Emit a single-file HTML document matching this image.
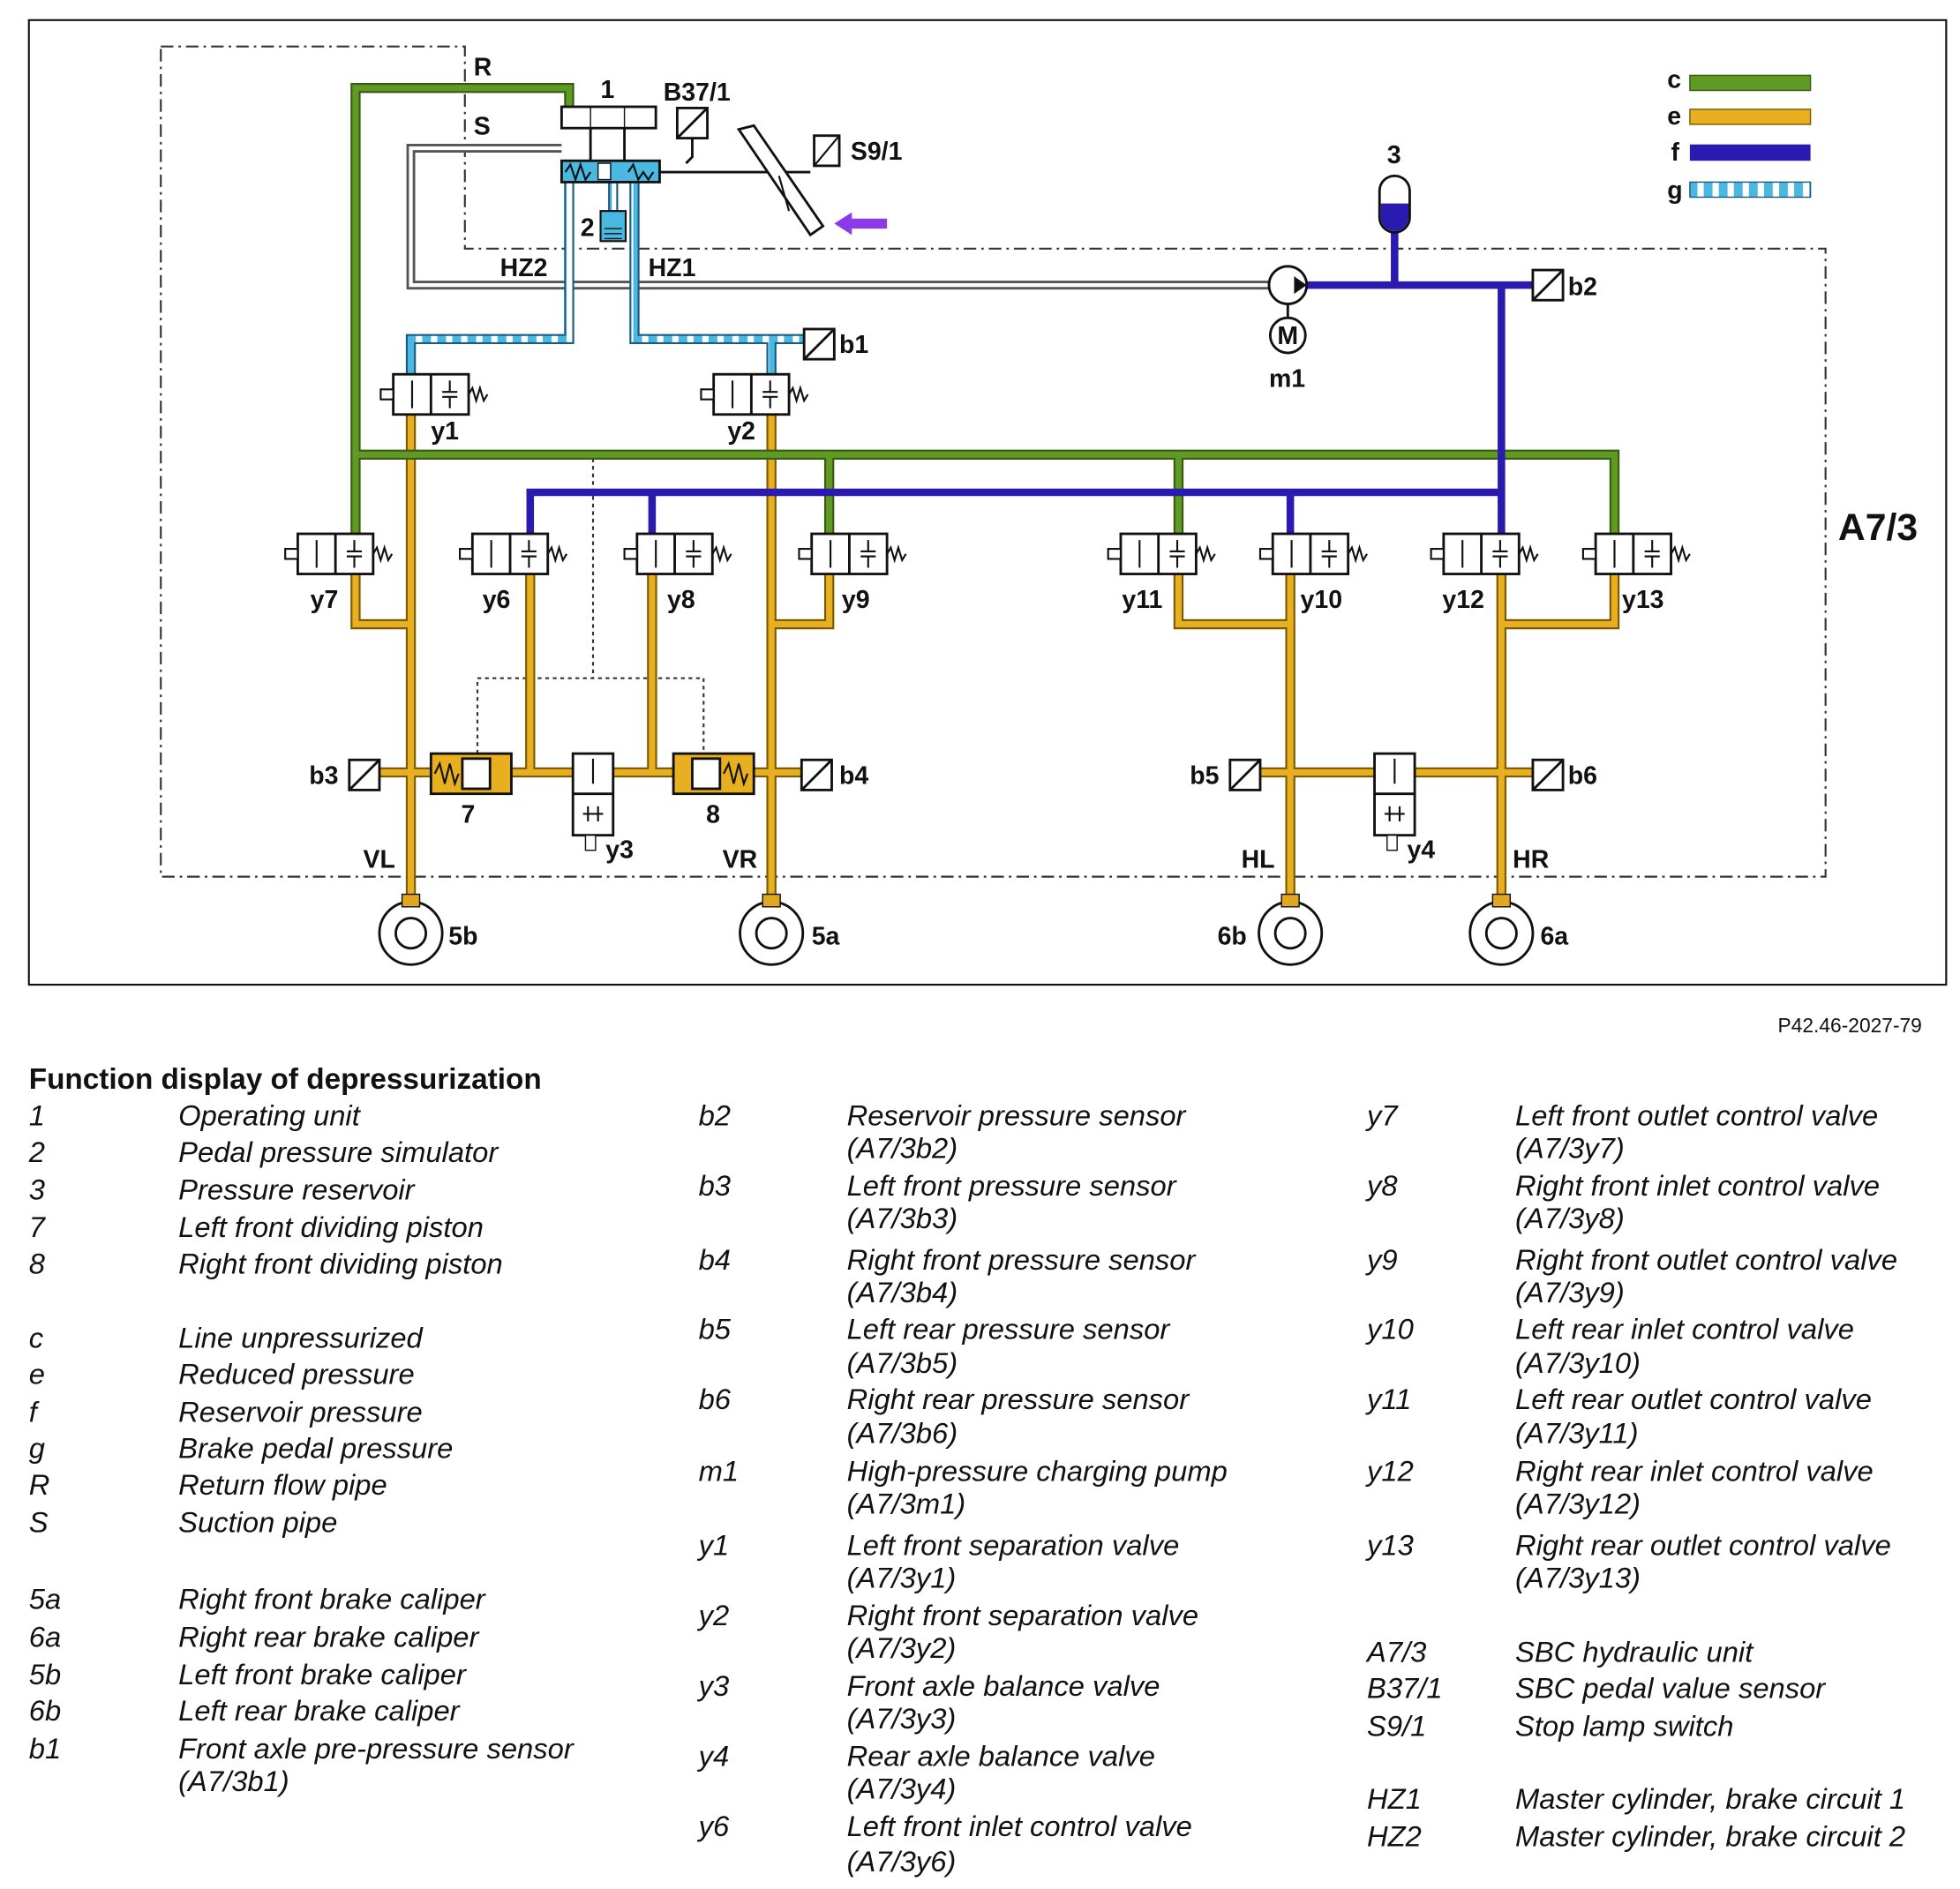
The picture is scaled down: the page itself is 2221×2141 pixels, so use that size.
<!DOCTYPE html>
<html><head><meta charset="utf-8"><style>
html,body{margin:0;padding:0;background:#fff}
svg{display:block}
.lb{font-family:"Liberation Sans",sans-serif;font-weight:bold;font-size:20px;fill:#111}
.t{font-family:"Liberation Sans",sans-serif;font-style:italic;font-size:23px;fill:#111}
</style></head><body>
<svg width="2221" height="2141" viewBox="0 0 1560 1504" preserveAspectRatio="none" xmlns="http://www.w3.org/2000/svg">
<defs>
<pattern id="stripe" width="12" height="12" patternUnits="userSpaceOnUse"><rect width="12" height="12" fill="#fff"/><rect width="7" height="12" fill="#4ab8e0"/></pattern>
<g id="valve">
<rect x="-30" y="-16" width="60" height="32" fill="#fff" stroke="#111" stroke-width="2"/>
<line x1="0" y1="-16" x2="0" y2="16" stroke="#111" stroke-width="2"/>
<line x1="-15" y1="-11" x2="-15" y2="11" stroke="#111" stroke-width="1.5"/>
<line x1="15" y1="-11" x2="15" y2="-2" stroke="#111" stroke-width="1.5"/>
<line x1="15" y1="2" x2="15" y2="11" stroke="#111" stroke-width="1.5"/>
<line x1="9" y1="-2" x2="21" y2="-2" stroke="#111" stroke-width="1.5"/>
<line x1="9" y1="2" x2="21" y2="2" stroke="#111" stroke-width="1.5"/>
<path d="M30,0 l3,-5 l3,10 l3,-10 l3,10 l3,-5" fill="none" stroke="#111" stroke-width="1.5"/>
<rect x="-40" y="-4" width="10" height="8" fill="#fff" stroke="#111" stroke-width="1.5"/>
</g>
<g id="sensor"><rect x="0" y="0" width="24" height="24" fill="#fff" stroke="#111" stroke-width="2"/><line x1="0" y1="24" x2="24" y2="0" stroke="#111" stroke-width="2"/></g>
<g id="wheel"><circle r="25" fill="#fff" stroke="#111" stroke-width="2"/><circle r="12" fill="#fff" stroke="#111" stroke-width="2"/><rect x="-7" y="-31" width="14" height="10" fill="#e0a820" stroke="#111" stroke-width="1"/></g>
</defs>
<rect x="23" y="16" width="1526" height="768" fill="#fff" stroke="#111" stroke-width="1.5"/>
<path d="M128,37 H370 V198 H1453 V698 H128 Z" fill="none" stroke="#333" stroke-width="1.5" stroke-dasharray="10,4,2,4"/>
<path d="M472,365 V540 M380,600 V540 H560 V600" fill="none" stroke="#333" stroke-width="1.5" stroke-dasharray="3,3"/>
<path d="M447,118 H327 V227 H1010" fill="none" stroke="#555" stroke-width="7"/>
<path d="M447,118 H327 V227 H1010" fill="none" stroke="#fff" stroke-width="3"/>
<g fill="none" stroke="#7a5a00" stroke-width="8">
<path d="M327,330 V718 M614,330 V718 M283,457 V497 H327 M422,457 V615 M519,457 V615 M660,457 V497 H614 M300,615 H650 M938,457 V497 H1027 M1027,457 V718 M1195,457 V718 M1285,457 V497 H1195 M1000,615 H1220"/>
</g>
<g fill="none" stroke="#e8b020" stroke-width="5">
<path d="M327,330 V718 M614,330 V718 M283,457 V497 H327 M422,457 V615 M519,457 V615 M660,457 V497 H614 M300,615 H650 M938,457 V497 H1027 M1027,457 V718 M1195,457 V718 M1285,457 V497 H1195 M1000,615 H1220"/>
</g>
<g fill="none" stroke="#3a5a10" stroke-width="8"><path d="M453,88 V70 H283 V425 M283,362 H1285 V425 M660,362 V425 M938,362 V425"/></g>
<g fill="none" stroke="#5e9a24" stroke-width="5"><path d="M453,88 V70 H283 V425 M283,362 H1285 V425 M660,362 V425 M938,362 V425"/></g>
<g fill="none" stroke="#2a1ab0" stroke-width="6"><path d="M1040,227 H1220 M1110,185 V227 M1195,227 V425 M422,425 V392 H1195 M519,392 V425 M1027,392 V425"/></g>
<g fill="none" stroke="#1a5a80" stroke-width="8"><path d="M453,145 V270 H327 V300 M505,145 V270 H640 M614,270 V300 M488,145 V168"/></g>
<g fill="none" stroke="url(#stripe)" stroke-width="5"><path d="M453,145 V270 H327 V300 M505,145 V270 H640 M614,270 V300 M488,145 V168"/></g>
<rect x="447" y="85" width="75" height="17" fill="#fff" stroke="#111" stroke-width="2"/>
<line x1="470" y1="85" x2="470" y2="102" stroke="#111"/><line x1="497" y1="85" x2="497" y2="102" stroke="#111"/>
<line x1="470" y1="102" x2="470" y2="128" stroke="#111" stroke-width="2"/><line x1="497" y1="102" x2="497" y2="128" stroke="#111" stroke-width="2"/>
<rect x="447" y="128" width="78" height="17" fill="#4ab8e0" stroke="#111" stroke-width="2"/>
<path d="M450,137 l4,-6 l4,12 l4,-12 l4,12 l4,-6 M500,137 l4,-6 l4,12 l4,-6 l4,6 l4,-6" fill="none" stroke="#111" stroke-width="1.5"/>
<rect x="476" y="130" width="10" height="13" fill="#fff" stroke="#111"/>
<line x1="525" y1="137" x2="645" y2="137" stroke="#111" stroke-width="2"/>
<rect x="478" y="168" width="20" height="24" fill="#4ab8e0" stroke="#111" stroke-width="1.5"/>
<path d="M481,182 h14 M481,186 h14 M481,190 h14" stroke="#111"/>
<use href="#sensor" x="539" y="86"/>
<path d="M551,110 V125 l-5,5" fill="none" stroke="#111" stroke-width="2"/>
<path d="M588,103 L600,100 L655,180 L645,187 Z" fill="#fff" stroke="#111" stroke-width="2"/>
<path d="M620,140 L628,168" stroke="#111" stroke-width="1.5"/>
<rect x="648" y="108" width="20" height="24" fill="#fff" stroke="#111" stroke-width="2"/>
<line x1="648" y1="132" x2="668" y2="108" stroke="#111" stroke-width="1.5"/>
<path d="M664,178 l14,-9 v5 h28 v8 h-28 v5 z" fill="#8a3ae8"/>
<rect x="1098" y="140" width="24" height="45" rx="12" fill="#fff" stroke="#111" stroke-width="2"/>
<path d="M1099,162 H1121 V173 A11,11 0 0 1 1099,173 Z" fill="#2a1ab0"/>
<circle cx="1025" cy="227" r="15" fill="#fff" stroke="#111" stroke-width="2"/>
<path d="M1030,220 l10,7 l-10,7 z" fill="#111"/>
<line x1="1025" y1="242" x2="1025" y2="253" stroke="#111" stroke-width="2"/>
<circle cx="1025" cy="267" r="14" fill="#fff" stroke="#111" stroke-width="2"/>
<text x="1025" y="274" class="lb" text-anchor="middle" font-size="17">M</text>
<use href="#sensor" x="1220" y="215"/><use href="#sensor" x="640" y="262"/>
<use href="#sensor" x="278" y="605"/><use href="#sensor" x="638" y="605"/>
<use href="#sensor" x="979" y="605"/><use href="#sensor" x="1220" y="605"/>
<use href="#valve" x="343" y="314"/><use href="#valve" x="598" y="314"/>
<use href="#valve" x="267" y="441"/><use href="#valve" x="406" y="441"/>
<use href="#valve" x="537" y="441"/><use href="#valve" x="676" y="441"/>
<use href="#valve" x="922" y="441"/><use href="#valve" x="1043" y="441"/>
<use href="#valve" x="1179" y="441"/><use href="#valve" x="1300" y="441"/>
<rect x="343" y="600" width="64" height="32" fill="#e8b020" stroke="#111" stroke-width="2"/>
<rect x="368" y="604" width="22" height="24" fill="#fff" stroke="#111" stroke-width="2"/>
<path d="M346,616 l4,-8 l4,16 l4,-16 l4,16 l3,-8" fill="none" stroke="#111" stroke-width="1.5"/>
<rect x="536" y="600" width="64" height="32" fill="#e8b020" stroke="#111" stroke-width="2"/>
<rect x="551" y="604" width="22" height="24" fill="#fff" stroke="#111" stroke-width="2"/>
<path d="M576,616 l4,-8 l4,16 l4,-16 l4,16 l3,-8" fill="none" stroke="#111" stroke-width="1.5"/>
<g><rect x="456" y="600" width="32" height="65" fill="#fff" stroke="#111" stroke-width="2"/><line x1="456" y1="632" x2="488" y2="632" stroke="#111" stroke-width="2"/><path d="M464,648 h16 M468,642 v12 M476,642 v12 M472,604 v20" stroke="#111" stroke-width="1.5"/><rect x="466" y="665" width="8" height="12" fill="#fff" stroke="#111"/></g>
<g><rect x="1094" y="600" width="32" height="65" fill="#fff" stroke="#111" stroke-width="2"/><line x1="1094" y1="632" x2="1126" y2="632" stroke="#111" stroke-width="2"/><path d="M1102,648 h16 M1106,642 v12 M1114,642 v12 M1110,604 v20" stroke="#111" stroke-width="1.5"/><rect x="1104" y="665" width="8" height="12" fill="#fff" stroke="#111"/></g>
<use href="#wheel" x="327" y="743"/><use href="#wheel" x="614" y="743"/>
<use href="#wheel" x="1027" y="743"/><use href="#wheel" x="1195" y="743"/>
<rect x="1345" y="60" width="96" height="12" fill="#5e9a24" stroke="#3a5a10"/>
<rect x="1345" y="87" width="96" height="12" fill="#e8b020" stroke="#7a5a00"/>
<rect x="1345" y="115" width="96" height="13" fill="#2a1ab0"/>
<rect x="1345" y="145" width="96" height="12" fill="url(#stripe)" stroke="#1a5a80"/>
<g class="lb">
<text x="1327" y="70">c</text><text x="1327" y="99">e</text><text x="1330" y="128">f</text><text x="1327" y="158">g</text>
<text x="377" y="60">R</text><text x="377" y="107">S</text><text x="478" y="78">1</text><text x="528" y="80">B37/1</text>
<text x="677" y="127">S9/1</text><text x="1104" y="130">3</text><text x="462" y="188">2</text>
<text x="398" y="220">HZ2</text><text x="516" y="220">HZ1</text><text x="1248" y="235">b2</text><text x="668" y="281">b1</text>
<text x="1010" y="308">m1</text><text x="343" y="350">y1</text><text x="579" y="350">y2</text>
<text x="247" y="484">y7</text><text x="384" y="484">y6</text><text x="531" y="484">y8</text><text x="670" y="484">y9</text>
<text x="893" y="484">y11</text><text x="1035" y="484">y10</text><text x="1148" y="484">y12</text><text x="1291" y="484">y13</text>
<text x="1463" y="430" font-size="30">A7/3</text>
<text x="246" y="624">b3</text><text x="668" y="624">b4</text><text x="947" y="624">b5</text><text x="1248" y="624">b6</text>
<text x="367" y="655">7</text><text x="562" y="655">8</text><text x="482" y="683">y3</text><text x="1120" y="683">y4</text>
<text x="289" y="691">VL</text><text x="575" y="691">VR</text><text x="988" y="691">HL</text><text x="1204" y="691">HR</text>
<text x="357" y="752">5b</text><text x="646" y="752">5a</text><text x="969" y="752">6b</text><text x="1226" y="752">6a</text>
</g>
<text x="1415" y="822" font-family="Liberation Sans,sans-serif" font-size="16" fill="#111">P42.46-2027-79</text>
<text x="23" y="867" font-family="Liberation Sans,sans-serif" font-weight="bold" font-size="23.4" fill="#111">Function display of depressurization</text>
<g class="t">
<text x="23" y="896">1</text><text x="142" y="896">Operating unit</text>
<text x="23" y="925">2</text><text x="142" y="925">Pedal pressure simulator</text>
<text x="23" y="955">3</text><text x="142" y="955">Pressure reservoir</text>
<text x="23" y="985">7</text><text x="142" y="985">Left front dividing piston</text>
<text x="23" y="1014">8</text><text x="142" y="1014">Right front dividing piston</text>
<text x="23" y="1073">c</text><text x="142" y="1073">Line unpressurized</text>
<text x="23" y="1102">e</text><text x="142" y="1102">Reduced pressure</text>
<text x="23" y="1132">f</text><text x="142" y="1132">Reservoir pressure</text>
<text x="23" y="1161">g</text><text x="142" y="1161">Brake pedal pressure</text>
<text x="23" y="1190">R</text><text x="142" y="1190">Return flow pipe</text>
<text x="23" y="1220">S</text><text x="142" y="1220">Suction pipe</text>
<text x="23" y="1281">5a</text><text x="142" y="1281">Right front brake caliper</text>
<text x="23" y="1311">6a</text><text x="142" y="1311">Right rear brake caliper</text>
<text x="23" y="1341">5b</text><text x="142" y="1341">Left front brake caliper</text>
<text x="23" y="1370">6b</text><text x="142" y="1370">Left rear brake caliper</text>
<text x="23" y="1400">b1</text><text x="142" y="1400">Front axle pre-pressure sensor</text><text x="142" y="1426">(A7/3b1)</text>

<text x="556" y="896">b2</text><text x="674" y="896">Reservoir pressure sensor</text><text x="674" y="922">(A7/3b2)</text>
<text x="556" y="952">b3</text><text x="674" y="952">Left front pressure sensor</text><text x="674" y="978">(A7/3b3)</text>
<text x="556" y="1011">b4</text><text x="674" y="1011">Right front pressure sensor</text><text x="674" y="1037">(A7/3b4)</text>
<text x="556" y="1066">b5</text><text x="674" y="1066">Left rear pressure sensor</text><text x="674" y="1093">(A7/3b5)</text>
<text x="556" y="1122">b6</text><text x="674" y="1122">Right rear pressure sensor</text><text x="674" y="1149">(A7/3b6)</text>
<text x="556" y="1179">m1</text><text x="674" y="1179">High-pressure charging pump</text><text x="674" y="1205">(A7/3m1)</text>
<text x="556" y="1238">y1</text><text x="674" y="1238">Left front separation valve</text><text x="674" y="1264">(A7/3y1)</text>
<text x="556" y="1294">y2</text><text x="674" y="1294">Right front separation valve</text><text x="674" y="1320">(A7/3y2)</text>
<text x="556" y="1350">y3</text><text x="674" y="1350">Front axle balance valve</text><text x="674" y="1376">(A7/3y3)</text>
<text x="556" y="1406">y4</text><text x="674" y="1406">Rear axle balance valve</text><text x="674" y="1432">(A7/3y4)</text>
<text x="556" y="1462">y6</text><text x="674" y="1462">Left front inlet control valve</text><text x="674" y="1490">(A7/3y6)</text>

<text x="1088" y="896">y7</text><text x="1206" y="896">Left front outlet control valve</text><text x="1206" y="922">(A7/3y7)</text>
<text x="1088" y="952">y8</text><text x="1206" y="952">Right front inlet control valve</text><text x="1206" y="978">(A7/3y8)</text>
<text x="1088" y="1011">y9</text><text x="1206" y="1011">Right front outlet control valve</text><text x="1206" y="1037">(A7/3y9)</text>
<text x="1088" y="1066">y10</text><text x="1206" y="1066">Left rear inlet control valve</text><text x="1206" y="1093">(A7/3y10)</text>
<text x="1088" y="1122">y11</text><text x="1206" y="1122">Left rear outlet control valve</text><text x="1206" y="1149">(A7/3y11)</text>
<text x="1088" y="1179">y12</text><text x="1206" y="1179">Right rear inlet control valve</text><text x="1206" y="1205">(A7/3y12)</text>
<text x="1088" y="1238">y13</text><text x="1206" y="1238">Right rear outlet control valve</text><text x="1206" y="1264">(A7/3y13)</text>
<text x="1088" y="1323">A7/3</text><text x="1206" y="1323">SBC hydraulic unit</text>
<text x="1088" y="1352">B37/1</text><text x="1206" y="1352">SBC pedal value sensor</text>
<text x="1088" y="1382">S9/1</text><text x="1206" y="1382">Stop lamp switch</text>
<text x="1088" y="1440">HZ1</text><text x="1206" y="1440">Master cylinder, brake circuit 1</text>
<text x="1088" y="1470">HZ2</text><text x="1206" y="1470">Master cylinder, brake circuit 2</text>
</g>
</svg>
</body></html>
